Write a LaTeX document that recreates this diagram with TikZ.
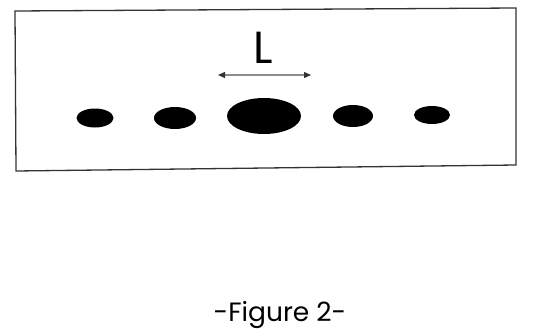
\documentclass[tikz,border=0pt]{standalone}
\usepackage{fontspec}
\setmainfont{Poppins}
\usetikzlibrary{arrows.meta}
\begin{document}
\begin{tikzpicture}[x=1pt,y=-1pt,
  spot/.style={fill=black,draw=none},
  frame/.style={draw=black!80,line width=1.3pt},
  dim/.style={draw=black!45,line width=1.2pt,{Triangle[length=7pt,width=6pt,color=black!80]}-{Triangle[length=7pt,width=6pt,color=black!80]}}]
\useasboundingbox (0,0) rectangle (539,332);
\draw[frame] (15,11) coordinate (c1) -- (516,8) coordinate (c2) -- (516,165) coordinate (c3) -- (16,171) coordinate (c4) -- cycle;
\fill[spot] (95,118) ellipse [x radius=18.5, y radius=9.5];
\fill[spot] (175,118) ellipse [x radius=21, y radius=11];
\fill[spot] (264,116) ellipse [x radius=37, y radius=18];
\fill[spot] (353,116) ellipse [x radius=20, y radius=11];
\fill[spot] (432,115) ellipse [x radius=18, y radius=9];
\coordinate (al) at (218,75);
\coordinate (ar) at (311,75);
\draw[dim] (al) -- (ar);
\node[inner sep=0pt,font=\fontsize{45}{45}\selectfont] (lab) at (263,48) {L};
\node[inner sep=0pt,font=\fontsize{26.5}{26.5}\selectfont,anchor=base] (cap) at (280,321) {-Figure 2-};
\end{tikzpicture}
\end{document}
